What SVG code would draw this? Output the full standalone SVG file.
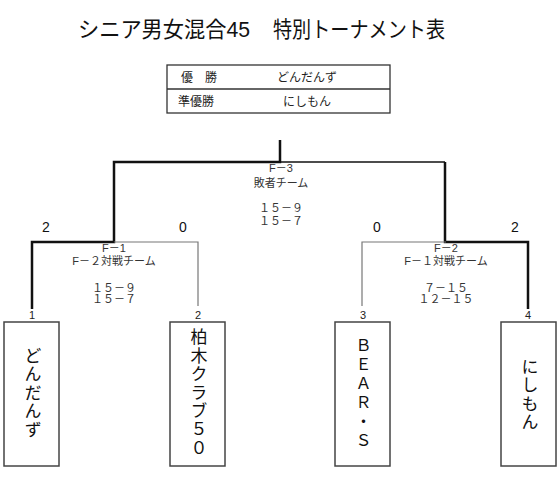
<svg xmlns="http://www.w3.org/2000/svg" width="560" height="495" viewBox="0 0 560 495">
<style>
text{font-family:"Liberation Sans","Noto Sans CJK JP",sans-serif;fill:#222}
.t{font-size:22px;fill:#111}
.s{font-size:11px;fill:#333;text-anchor:middle}
.tb{font-size:12px;fill:#222}
.sc{font-size:14px;text-anchor:middle;fill:#111}
.n{font-size:11px;text-anchor:middle;fill:#222}
.v{font-size:17px;text-anchor:middle;fill:#111;writing-mode:vertical-rl;text-orientation:upright}
.thick{stroke:#111;stroke-width:2.5;fill:none}
.thin{stroke:#777;stroke-width:1.2;fill:none}
.box{fill:#fff;stroke:#444;stroke-width:1.5}
</style>
<rect width="560" height="495" fill="#fff"/>
<text class="t" x="78" y="37" textLength="172" lengthAdjust="spacingAndGlyphs">シニア男女混合45</text>
<text class="t" x="273" y="37" textLength="172" lengthAdjust="spacingAndGlyphs">特別トーナメント表</text>
<g id="result-table">
<rect x="167" y="65" width="223" height="48" fill="#fff" stroke="#333" stroke-width="1.3"/>
<line x1="167" y1="89" x2="390" y2="89" stroke="#333" stroke-width="1.3"/>
<text class="tb" x="181" y="82">優　勝</text>
<text class="tb" x="307" y="82" text-anchor="middle">どんだんず</text>
<text class="tb" x="178" y="106">準優勝</text>
<text class="tb" x="307" y="106" text-anchor="middle">にしもん</text>
</g>
<g id="connectors">
<path class="thick" d="M280,140 V162 H114 V242 H32 V309"/>
<path class="thin" d="M114,242 H198 V306"/>
<path d="M280,162 H445" stroke="#111" stroke-width="1.5" fill="none"/>
<path class="thick" d="M445,162 V242 H528 V309"/>
<path class="thin" d="M446,242 H362 V306"/>
</g>
<g id="match-f3">
<text class="s" x="281" y="172">F－3</text>
<text class="s" x="281" y="187">敗者チーム</text>
<text class="s" x="281" y="212">１５－９</text>
<text class="s" x="281" y="225">１５－７</text>
</g>
<g id="match-f1">
<text class="sc" x="46" y="232">2</text>
<text class="sc" x="183" y="232">0</text>
<text class="s" x="114" y="252">F－1</text>
<text class="s" x="114" y="265">F－２対戦チーム</text>
<text class="s" x="114" y="292">１５－９</text>
<text class="s" x="114" y="303">１５－７</text>
</g>
<g id="match-f2">
<text class="sc" x="377" y="232">0</text>
<text class="sc" x="515" y="232">2</text>
<text class="s" x="446" y="252">F－2</text>
<text class="s" x="446" y="265">F－１対戦チーム</text>
<text class="s" x="446" y="292">７－１５</text>
<text class="s" x="446" y="303">１２－１５</text>
</g>
<g id="team1">
<text class="n" x="32" y="319">1</text>
<rect class="box" x="4" y="322" width="55" height="144"/>
<text class="v" x="31" y="393" letter-spacing="1.5">どんだんず</text>
</g>
<g id="team2">
<text class="n" x="198" y="319">2</text>
<rect class="box" x="170" y="322" width="55" height="144"/>
<text class="v" x="197" y="393" letter-spacing="1.5">柏木クラブ５０</text>
</g>
<g id="team3">
<text class="n" x="363" y="319">3</text>
<rect class="box" x="335" y="322" width="55" height="144"/>
<text class="v" x="362" y="394" style="font-size:16px" letter-spacing="3">ＢＥＡＲ・Ｓ</text>
</g>
<g id="team4">
<text class="n" x="528" y="319">4</text>
<rect class="box" x="501" y="322" width="55" height="144"/>
<text class="v" x="528" y="395" letter-spacing="1.5">にしもん</text>
</g>
</svg>
